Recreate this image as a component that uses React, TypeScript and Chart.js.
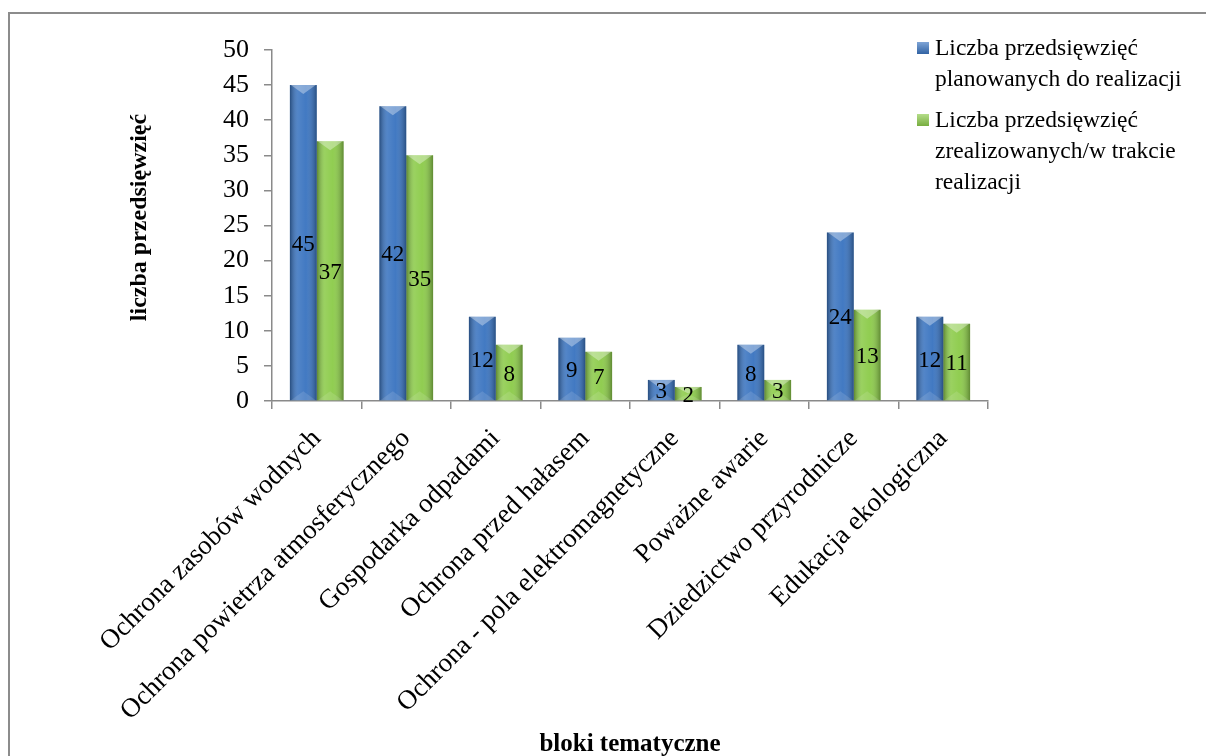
import { useEffect, useRef } from "react";
import { Chart, registerables } from "chart.js";

Chart.register(...registerables);

const FONT = '"Liberation Serif", "Times New Roman", serif';

const categories = [
	"Ochrona zasobów wodnych",
	"Ochrona powietrza atmosferycznego",
	"Gospodarka odpadami",
	"Ochrona przed hałasem",
	"Ochrona - pola elektromagnetyczne",
	"Poważne awarie",
	"Dziedzictwo przyrodnicze",
	"Edukacja ekologiczna",
];
const planned = [45, 42, 12, 9, 3, 8, 24, 12];
const realized = [37, 35, 8, 7, 2, 3, 13, 11];
const seriesLabels = [
	"Liczba przedsięwzięć planowanych do realizacji",
	"Liczba przedsięwzięć zrealizowanych/w trakcie realizacji",
];
const seriesColors = ["#3a74c0", "#8ccb4a"];
const yTitle = "liczba przedsięwzięć";
const xTitle = "bloki tematyczne";

// bevel + shading over each bar, then the value in the middle
const barDecor = {
	id: "barDecor",
	afterDatasetsDraw(chart: Chart) {
		const { ctx } = chart;
		chart.data.datasets.forEach((ds, di) => {
			const meta = chart.getDatasetMeta(di);
			meta.data.forEach((el: any, i: number) => {
				const { x, y, base, width } = el.getProps(["x", "y", "base", "width"], true);
				const left = x - width / 2;
				const right = x + width / 2;
				const h = base - y;
				ctx.save();
				const g = ctx.createLinearGradient(left, 0, right, 0);
				g.addColorStop(0, "rgba(0,0,0,0.34)");
				g.addColorStop(0.3, "rgba(255,255,255,0.12)");
				g.addColorStop(0.6, "rgba(255,255,255,0.04)");
				g.addColorStop(1, "rgba(0,0,0,0.32)");
				ctx.fillStyle = g;
				ctx.fillRect(left, y, width, h);
				const th = Math.min(9, h / 2);
				ctx.fillStyle = "rgba(255,255,255,0.35)";
				ctx.beginPath();
				ctx.moveTo(left + 1, y);
				ctx.lineTo(right - 1, y);
				ctx.lineTo(x, y + th);
				ctx.closePath();
				ctx.fill();
				ctx.fillStyle = "rgba(255,255,255,0.12)";
				ctx.beginPath();
				ctx.moveTo(left + 1, base);
				ctx.lineTo(right - 1, base);
				ctx.lineTo(x, base - th);
				ctx.closePath();
				ctx.fill();
				ctx.fillStyle = "#000";
				ctx.font = `23px ${FONT}`;
				ctx.textAlign = "center";
				ctx.textBaseline = "middle";
				ctx.fillText(String((ds.data as number[])[i]), x, (y + base) / 2 + 2);
				ctx.restore();
			});
		});
	},
	// y title sits a little above the plot's middle in the original
	afterDraw(chart: Chart) {
		const { ctx, chartArea } = chart;
		ctx.save();
		ctx.translate(140, (chartArea.top + chartArea.bottom) / 2 - 8);
		ctx.rotate(-Math.PI / 2);
		ctx.font = `bold 24px ${FONT}`;
		ctx.fillStyle = "#000";
		ctx.textAlign = "center";
		ctx.textBaseline = "middle";
		ctx.fillText(yTitle, 0, 0);
		ctx.restore();
	},
};

export default function App() {
	const canvasRef = useRef<HTMLCanvasElement | null>(null);

	useEffect(() => {
		document.body.style.margin = "0";
		if (!canvasRef.current) return;
		const chart = new Chart(canvasRef.current, {
			type: "bar",
			data: {
				labels: categories,
				datasets: [
					{ label: seriesLabels[0], data: planned, backgroundColor: seriesColors[0] },
					{ label: seriesLabels[1], data: realized, backgroundColor: seriesColors[1] },
				],
			},
			options: {
				animation: false,
				responsive: false,
				devicePixelRatio: 1,
				layout: { padding: { left: 127, right: 218, top: 50, bottom: 0 } },
				datasets: { bar: { categoryPercentage: 0.6, barPercentage: 1 } },
				plugins: { legend: { display: false }, tooltip: { enabled: false } },
				scales: {
					x: {
						afterFit: (s: any) => {
							s.height = 359;
						},
						grid: { offset: true, drawOnChartArea: false, tickLength: 8, color: "#8a8a8a", lineWidth: 1.5 },
						border: { color: "#8a8a8a", width: 1.5 },
						ticks: {
							color: "#000",
							font: { family: FONT, size: 27 },
							minRotation: 45,
							maxRotation: 45,
							padding: 14,
							autoSkip: false,
						},
						title: {
							display: true,
							text: xTitle,
							color: "#000",
							font: { family: FONT, size: 25, weight: "bold" },
							padding: { top: 0, bottom: 0 },
						},
					},
					y: {
						min: 0,
						max: 50,
						afterFit: (s: any) => {
							s.width = 145;
						},
						grid: { drawOnChartArea: false, tickLength: 8, color: "#8a8a8a", lineWidth: 1.5 },
						border: { color: "#8a8a8a", width: 1.5 },
						ticks: {
							stepSize: 5,
							color: "#000",
							font: { family: FONT, size: 26 },
							padding: 15,
						},
						title: { display: false },
					},
				},
			},
			plugins: [barDecor],
		});
		return () => chart.destroy();
	}, []);

	return (
		<div style={{ position: "relative", width: 1206, height: 756, overflow: "hidden", background: "#fff" }}>
			<div
				style={{
					position: "absolute",
					left: 8,
					top: 12,
					width: 1300,
					height: 900,
					borderLeft: "2px solid #8c8c8c",
					borderTop: "2px solid #8c8c8c",
				}}
			/>
			<canvas ref={canvasRef} width={1206} height={760} style={{ position: "absolute", left: 0, top: 0 }} />
			<div
				style={{
					position: "absolute",
					left: 917,
					top: 32,
					width: 285,
					fontFamily: FONT,
					fontSize: 23.5,
					lineHeight: "31px",
					color: "#000",
				}}
			>
				{seriesLabels.map((l, i) => (
					<div key={l} style={{ display: "flex", marginBottom: 10 }}>
						<div
							style={{
								width: 12,
								height: 12,
								marginTop: 10,
								marginRight: 6,
								flex: "0 0 12px",
								background: `linear-gradient(to bottom, rgba(255,255,255,0.35), rgba(0,0,0,0.15)), ${seriesColors[i]}`,
							}}
						/>
						<div style={{ width: 265 }}>{l}</div>
					</div>
				))}
			</div>
		</div>
	);
}
